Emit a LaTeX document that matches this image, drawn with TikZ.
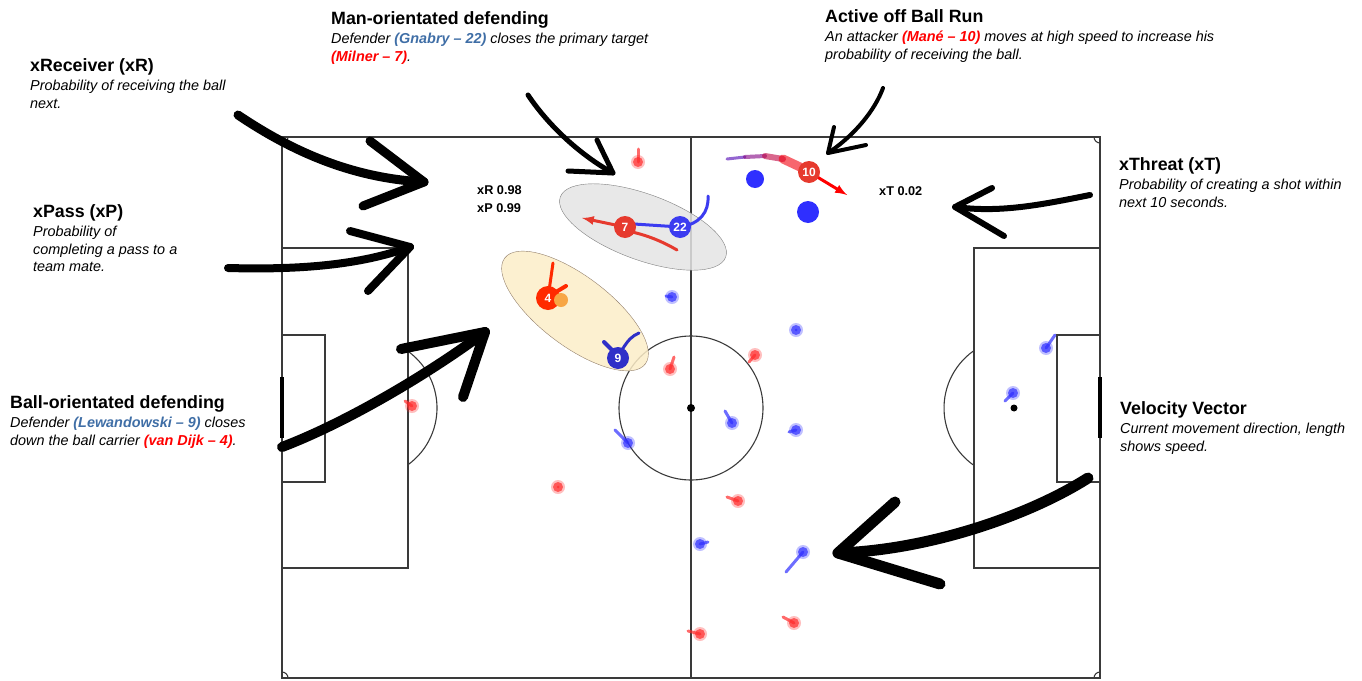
\documentclass[tikz,border=0pt]{standalone}
\usepackage{fontspec}
\setmainfont{Liberation Sans}
\usepackage{tikz}
\usetikzlibrary{positioning}

\definecolor{pitchgrey}{HTML}{3A3A3A}
\definecolor{homered}{HTML}{FF2B2B}
\definecolor{awayblue}{HTML}{2F2FFF}
\definecolor{nameblue}{HTML}{3F6EA6}
\definecolor{keyred}{HTML}{E63A2E}
\definecolor{vdred}{HTML}{FF2A00}
\definecolor{keyblue}{HTML}{3B3BF0}
\definecolor{lewblue}{HTML}{2F2FC8}
\definecolor{ballorange}{HTML}{F7A645}
\definecolor{zonegrey}{HTML}{E4E4E4}
\definecolor{zonecream}{HTML}{FCEDC8}

\tikzset{
  pitch/.style={draw=pitchgrey, line width=1.1pt},
  hand/.style={draw=black, line cap=round, line join=round},
  head/.style={anchor=base west, inner sep=0pt, font=\fontsize{17.8}{20}\selectfont\bfseries},
  caption/.style={align=left, inner sep=0pt, font=\fontsize{14.4}{17.5}\selectfont\itshape},
  metric/.style={anchor=base west, inner sep=0pt, font=\fontsize{12.7}{14}\selectfont\bfseries},
  keyplayer/.style={circle, inner sep=0pt, minimum size=22pt, text=white, font=\fontsize{12}{13}\selectfont\bfseries},
  redtrail/.style={draw=homered, line width=3pt, opacity=0.7, line cap=round},
  bluetrail/.style={draw=awayblue, line width=3pt, opacity=0.7, line cap=round},
}
\newcommand{\redname}[1]{\textcolor{red}{\bfseries #1}}
\newcommand{\bluename}[1]{\textcolor{nameblue}{\bfseries #1}}

\begin{document}
\begin{tikzpicture}[x=1pt, y=-1pt]
\useasboundingbox (0,0) rectangle (1362,680);

% Pitch
\draw[pitch] (282,137) rectangle (1100,678);
\draw[pitch] (691,137) -- (691,678);   % halfway line
\draw[pitch] (691,408) circle (72pt);
\fill (691,408) circle (4pt);
\draw[pitch] (282,248) rectangle (408,568);   % left boxes
\draw[pitch] (282,335) rectangle (325,482);
\fill (367,408) circle (3.5pt);
\draw[pitch] (367,408) ++(-54.2:70pt) arc[start angle=-54.2, end angle=54.2, radius=70pt];
\draw[pitch] (974,248) rectangle (1100,568);  % right boxes
\draw[pitch] (1057,335) rectangle (1100,482);
\fill (1014,408) circle (3.5pt);
\draw[pitch] (1014,408) ++(125.8:70pt) arc[start angle=125.8, end angle=234.2, radius=70pt];
\draw[pitch] (288,137) arc[start angle=0, end angle=-90, radius=6pt];
\draw[pitch] (1094,137) arc[start angle=180, end angle=270, radius=6pt];
\draw[pitch] (288,678) arc[start angle=0, end angle=90, radius=6pt];
\draw[pitch] (1100,672) arc[start angle=90, end angle=180, radius=6pt];
\draw[line width=4pt] (282,377) -- (282,438);  % goals
\draw[line width=4pt] (1100,377) -- (1100,438);

% Zones
\filldraw[fill=zonegrey, draw=gray, fill opacity=0.85, rotate around={-20:(643,227)}] (643,227) ellipse [x radius=88pt, y radius=33pt];
\filldraw[fill=zonecream, draw=gray!70!brown, fill opacity=0.85, rotate around={-37:(575,311)}] (575,311) ellipse [x radius=88pt, y radius=35pt];

% Other players
\foreach \hx/\hy/\tx/\ty in {638/162/638/149, 670/369/674/357, 755/355/749/362, 558/487/558/487,
    738/501/727/497, 700/634/688/631, 794/623/783/617, 412/406/405/401} {
  \draw[redtrail] (\tx,\ty) -- (\hx,\hy);
  \fill[homered, opacity=0.3] (\hx,\hy) circle (7pt);
  \fill[homered, opacity=0.7] (\hx,\hy) circle (5pt);
}
\foreach \hx/\hy/\tx/\ty in {672/297/666/296, 796/330/796/330, 628/443/615/430, 732/423/725/411,
    796/430/789/432, 700/544/708/542, 803/552/786/572, 1046/348/1055/335, 1013/393/1005/401} {
  \draw[bluetrail] (\tx,\ty) -- (\hx,\hy);
  \fill[awayblue, opacity=0.3] (\hx,\hy) circle (7pt);
  \fill[awayblue, opacity=0.7] (\hx,\hy) circle (5pt);
}
\fill[awayblue] (755,179) circle (9pt);
\fill[awayblue] (808,212) circle (11pt);

% Key players
\coordinate (c7) at (625,227);
\coordinate (c22) at (680,227);
\coordinate (c10) at (809,172);
\coordinate (c4) at (548,298);
\coordinate (c9) at (618,358);

\draw[keyblue, line width=3pt] (c22) -- (634,224);
\draw[keyblue, line width=3pt, line cap=round] (c22) .. controls (700,224) and (709,212) .. (708,196);
\draw[keyred, line width=3pt, -latex] (c7) -- (582,218);
\draw[keyred, line width=3pt, line cap=round] (632,232) .. controls (650,236) and (665,243) .. (677,250);
\foreach \ax/\ay/\bx/\by/\mix/\w in {727/159/745/157/30/3, 745/157/765/156/50/4,
    765/156/783/159/75/6, 783/159/800/167/95/9} {
  \draw[red!\mix!blue, line width=\w pt, opacity=0.6, line cap=round] (\ax,\ay) -- (\bx,\by);
}
\draw[red, line width=3pt, -latex] (c10) -- (847,195);
\draw[vdred, line width=3pt, line cap=round] (c4) -- (553,263);
\draw[vdred, line width=4pt, line cap=round] (556,292) -- (566,286);
\draw[lewblue, line width=3pt, line cap=round] (622,350) .. controls (628,340) and (632,336) .. (639,333);
\draw[lewblue, line width=4pt, line cap=round] (612,350) -- (604,342);

\node[keyplayer, fill=keyred] (p7) at (c7) {7};
\node[keyplayer, fill=keyblue] (p22) at (c22) {22};
\node[keyplayer, fill=keyred] (p10) at (c10) {10};
\node[keyplayer, fill=vdred, minimum size=24pt] (p4) at (c4) {4};
\node[keyplayer, fill=lewblue] (p9) at (c9) {9};
\fill[ballorange] (561,300) circle (7pt);  % ball

% Metrics
\node[metric] (xr-val) at (477,194) {xR 0.98};
\node[metric] (xp-val) at (477,212) {xP 0.99};
\node[metric] (xt-val) at (879,195) {xT 0.02};

% Annotations
\node[head] (xr-head) at (30,71) {xReceiver (xR)};
\node[caption, below right=9pt and 0pt of xr-head.base west] (xr-text) {Probability of receiving the ball\\next.};
\node[head] (xp-head) at (33,217) {xPass (xP)};
\node[caption, below right=9pt and 0pt of xp-head.base west] (xp-text) {Probability of\\completing a pass to a\\team mate.};
\node[head] (man-head) at (331,24) {Man-orientated defending};
\node[caption, below right=9pt and 0pt of man-head.base west] (man-text) {Defender \bluename{(Gnabry – 22)} closes the primary target\\\redname{(Milner – 7)}.};
\node[head] (run-head) at (825,22) {Active off Ball Run};
\node[caption, below right=9pt and 0pt of run-head.base west] (run-text) {An attacker \redname{(Mané – 10)} moves at high speed to increase his\\probability of receiving the ball.};
\node[head] (xt-head) at (1119,170) {xThreat (xT)};
\node[caption, below right=9pt and 0pt of xt-head.base west] (xt-text) {Probability of creating a shot within\\next 10 seconds.};
\node[head] (ball-head) at (10,408) {Ball-orientated defending};
\node[caption, below right=9pt and 0pt of ball-head.base west] (ball-text) {Defender \bluename{(Lewandowski – 9)} closes\\down the ball carrier \redname{(van Dijk – 4)}.};
\node[head] (vel-head) at (1120,414) {Velocity Vector};
\node[caption, below right=9pt and 0pt of vel-head.base west] (vel-text) {Current movement direction, length\\shows speed.};

% Hand-drawn arrows
\coordinate (xr-tail) at (238,115);  \coordinate (xr-tip) at (424,182);
\coordinate (xp-tail) at (228,268);  \coordinate (xp-tip) at (410,247);
\coordinate (ball-tail) at (282,447); \coordinate (ball-tip) at (485,332);
\coordinate (man-tail) at (528,95);  \coordinate (man-tip) at (613,173);
\coordinate (run-tail) at (883,88);  \coordinate (run-tip) at (828,153);
\coordinate (xt-tail) at (1090,195); \coordinate (xt-tip) at (955,207);
\coordinate (vel-tail) at (1088,478); \coordinate (vel-tip) at (838,553);

\draw[hand, line width=9pt] (xr-tail) .. controls (290,150) and (350,178) .. (xr-tip);
\draw[hand, line width=9pt] (370,141) -- (xr-tip) -- (363,206);
\draw[hand, line width=8pt] (xp-tail) .. controls (300,270) and (360,265) .. (xp-tip);
\draw[hand, line width=8pt] (350,231) -- (xp-tip) -- (368,291);
\draw[hand, line width=10pt] (ball-tail) .. controls (340,425) and (420,380) .. (ball-tip);
\draw[hand, line width=10pt] (401,349) -- (ball-tip) -- (463,397);
\draw[hand, line width=5pt] (man-tail) .. controls (548,125) and (580,155) .. (man-tip);
\draw[hand, line width=5pt] (597,140) -- (man-tip) -- (568,171);
\draw[hand, line width=4pt] (run-tail) .. controls (875,110) and (855,135) .. (run-tip);
\draw[hand, line width=4pt] (834,127) -- (run-tip) -- (866,145);
\draw[hand, line width=6pt] (xt-tail) .. controls (1040,205) and (1000,213) .. (xt-tip);
\draw[hand, line width=6pt] (992,188) -- (xt-tip) -- (1004,236);
\draw[hand, line width=11pt] (vel-tail) .. controls (1030,515) and (930,550) .. (vel-tip);
\draw[hand, line width=11pt] (895,502) -- (vel-tip) -- (940,584);
\end{tikzpicture}
\end{document}
